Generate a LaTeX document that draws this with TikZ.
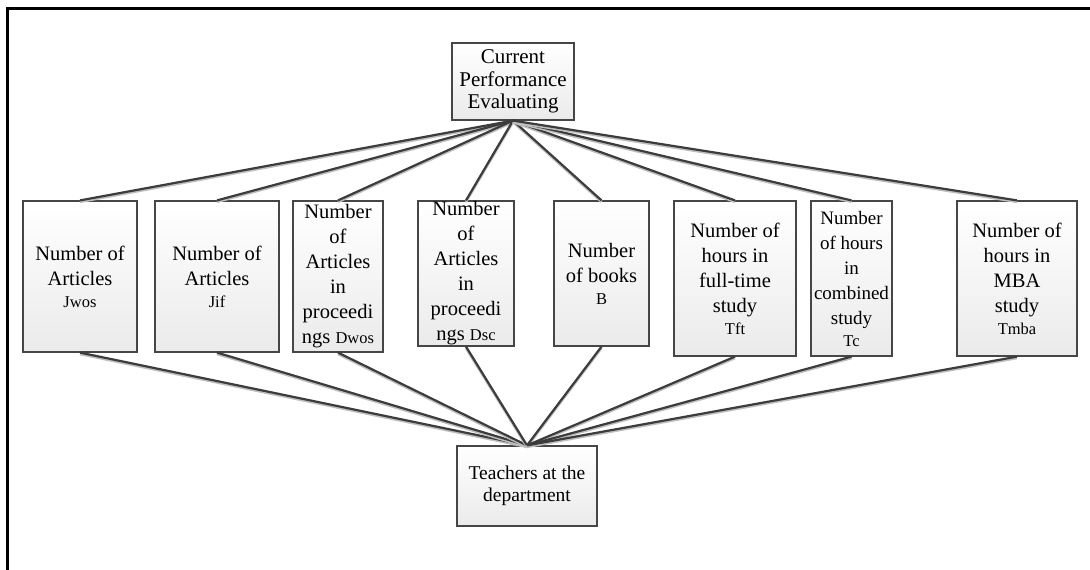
\documentclass[tikz,border=0pt]{standalone}
\usepackage{fontspec}
\setmainfont{Liberation Serif}
\usetikzlibrary{shadows}
\definecolor{linec}{RGB}{60,60,60}
\definecolor{boxline}{RGB}{70,70,70}
\newcommand\subtxt[1]{{\fontsize{16.5}{20}\selectfont #1}}
\tikzset{
  box/.style={draw=boxline, line width=1.2pt, top color=white, bottom color=black!8,
    inner sep=0pt, align=center, font=\fontsize{20.5}{25}\selectfont,
    drop shadow={shadow xshift=1.2pt, shadow yshift=-1.2pt, opacity=0.35}},
  conn/.style={draw=linec, line width=2.2pt,
    preaction={draw=black!25, line width=2.6pt, transform canvas={yshift=-1.4pt}}},
  frame/.style={draw=black, line width=3pt}
}
\begin{document}
\begin{tikzpicture}[x=1pt,y=-1pt]
\useasboundingbox (0,0) rectangle (1090,570);
\draw[frame] (7,571) -- (7,8) -- (1091,8);

\node[box, minimum width=122, minimum height=77, font=\fontsize{21}{22.5}\selectfont] (top) at (513,81.5) {Current\\Performance\\Evaluating};
\node[box, minimum width=140, minimum height=80, font=\fontsize{19.5}{22}\selectfont] (bot) at (527,486) {Teachers at the\\department};

\node[box, minimum width=114, minimum height=151] (b1) at (80,276.5) {Number of\\Articles\\[-3pt]\subtxt{Jwos}};
\node[box, minimum width=124, minimum height=151] (b2) at (217,276.5) {Number of\\Articles\\[-3pt]\subtxt{Jif}};
\node[box, minimum width=90, minimum height=151] (b3) at (338,276.5) {Number\\of\\Articles\\in\\proceedi\\ngs \subtxt{Dwos}};
\node[box, minimum width=96, minimum height=145] (b4) at (466,273.5) {Number\\of\\Articles\\in\\proceedi\\ngs \subtxt{Dsc}};
\node[box, minimum width=95, minimum height=145] (b5) at (601.5,273.5) {Number\\of books\\[-3pt]\subtxt{B}};
\node[box, minimum width=122, minimum height=155] (b6) at (735,278.5) {Number of\\hours in\\full-time\\study\\[-3pt]\subtxt{Tft}};
\node[box, minimum width=81, minimum height=155, font=\fontsize{19}{25}\selectfont] (b7) at (851.5,278.5) {Number\\of hours\\in\\combined\\study\\[-3pt]\subtxt{Tc}};
\node[box, minimum width=120, minimum height=155] (b8) at (1017,278.5) {Number of\\hours in\\MBA\\study\\[-3pt]\subtxt{Tmba}};

\foreach \b in {b1,b2,b3,b4,b5,b6,b7,b8}{
  \draw[conn] (top.south) -- (\b.north);
  \draw[conn] (\b.south) -- (bot.north);
}
\end{tikzpicture}
\end{document}
